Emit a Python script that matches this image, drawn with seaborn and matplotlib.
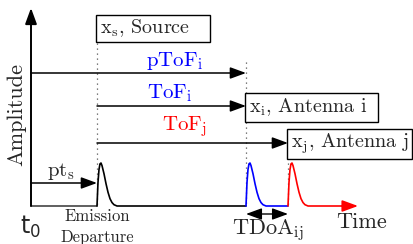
import numpy as np
import pandas as pd
import matplotlib
matplotlib.use("Agg")
import matplotlib.pyplot as plt
import matplotlib.patches as patches
import seaborn as sns

# event times on the time axis (pixel-like units): t0, emission, arrival at i, arrival at j
event_names = ["t0", "emission", "arrival_i", "arrival_j"]
event_t = [31, 97, 246, 288]
time_end = 358

# one received pulse (offset from pulse start, relative amplitude)
pulse_dt = [0, 1, 2, 3, 4, 5, 7, 9, 11, 13, 15, 17, 20]
pulse_amp = [0, 0.55, 0.85, 0.98, 1.0, 0.94, 0.75, 0.52, 0.32, 0.17, 0.08, 0.03, 0]

BASE = 206      # baseline of the signal
PULSE_H = 43    # pulse height

sns.set_theme(style="white")
plt.rcParams["mathtext.fontset"] = "cm"
plt.rcParams["font.family"] = ["cmr10", "DejaVu Serif"]
plt.rcParams["axes.formatter.use_mathtext"] = True

fig = plt.figure(figsize=(4.14, 2.44), dpi=100)
ax = fig.add_axes([0, 0, 1, 1])

BLUE = "#0000ff"
RED = "#ff0000"


def segment(name, start, stop, with_pulse=True):
    xs, ys = [start], [BASE]
    if with_pulse:
        xs = [start + d for d in pulse_dt]
        ys = [BASE - PULSE_H * a for a in pulse_amp]
    xs.append(stop)
    ys.append(BASE)
    return pd.DataFrame({"x": xs, "y": ys, "seg": name})


t0, t_em, t_i, t_j = event_t
signal = pd.concat([
    segment("idle", t0, t_em, with_pulse=False),
    segment("emitted", t_em, t_i),
    segment("received_i", t_i, t_j),
    segment("received_j", t_j, time_end - 14),
], ignore_index=True)

# dotted event markers
for xv, y_top in [(t_em, 43), (t_i, 62), (t_j, 143)]:
    ax.plot([xv, xv], [y_top, BASE], ls=(0, (1, 3)), color="#555555", lw=0.9, zorder=1)

sns.lineplot(data=signal, x="x", y="y", hue="seg", sort=False, estimator=None,
             palette={"idle": "#444444", "emitted": "black", "received_i": BLUE, "received_j": RED},
             legend=False, ax=ax, lw=1.2, zorder=3)
ax.set_xlim(0, 414)
ax.set_ylim(244, 0)
ax.axis("off")


def arrow(x1, y1, x2, y2, color="black", style="-|>", lw=1.1):
    ax.annotate("", xy=(x2, y2), xytext=(x1, y1),
                arrowprops=dict(arrowstyle=style + ",head_length=0.6,head_width=0.22",
                                color=color, lw=lw, shrinkA=0, shrinkB=0,
                                mutation_scale=16), zorder=4)


# axes arrows
arrow(t0, BASE, t0, 8, lw=1.4)
arrow(time_end - 16, BASE, time_end, BASE, color=RED, lw=1.2)

# propagation arrows
arrow(t0, 73, t_i, 73)
arrow(t_em, 106, t_i, 106)
arrow(t_em, 143, t_j, 143)
arrow(t0, 183, t_em, 183)
arrow(t_i, 214, t_j, 214, style="<|-|>", lw=1.0)

# boxes
boxes = [
    (96, 15, 114, 27, r"x$_\mathrm{s}$, Source"),
    (245, 93, 133, 29, r"x$_\mathrm{i}$, Antenna i"),
    (287, 129, 125, 30, r"x$_\mathrm{j}$, Antenna j"),
]
for bx, by, bw, bh, txt in boxes:
    ax.add_patch(patches.Rectangle((bx, by), bw, bh, fc="white", ec="black", lw=1.0, zorder=5))
    ax.text(bx + 4, by + bh / 2, txt, fontsize=14.5, ha="left", va="center", zorder=6)

# labels
ax.text(175, 61, r"pToF$_\mathrm{i}$", color=BLUE, fontsize=15, ha="center", va="center")
ax.text(170, 93, r"ToF$_\mathrm{i}$", color=BLUE, fontsize=15, ha="center", va="center")
ax.text(185, 127, r"ToF$_\mathrm{j}$", color=RED, fontsize=15, ha="center", va="center")
ax.text(61, 171, r"pt$_\mathrm{s}$", fontsize=15, ha="center", va="center")
ax.text(268, 230, r"TDoA$_\mathrm{ij}$", fontsize=16, ha="center", va="center")
ax.text(362, 222, "Time", fontsize=16, ha="center", va="center")
ax.text(17, 114, "Amplitude", fontsize=16, ha="center", va="center", rotation=90)
ax.text(30, 227, r"t$_\mathsf{0}$", fontsize=17, ha="center", va="center",
        family="DejaVu Sans", math_fontfamily="dejavusans")
ax.text(97, 216, "Emission", fontsize=12, ha="center", va="center")
ax.text(97, 237, "Departure", fontsize=12, ha="center", va="center")

fig.savefig("out.png", dpi=100)
